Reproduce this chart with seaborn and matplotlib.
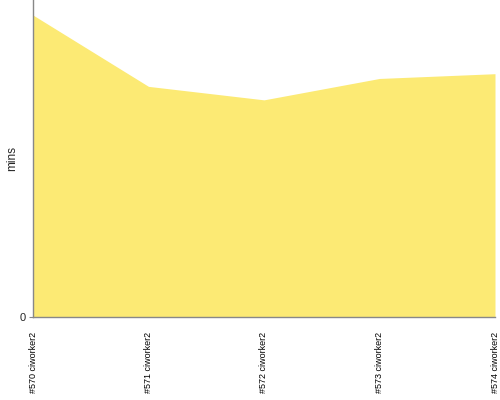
import pandas as pd
import seaborn as sns
import matplotlib
matplotlib.use('Agg')
import matplotlib.pyplot as plt

builds = ['#570 ciworker2', '#571 ciworker2', '#572 ciworker2', '#573 ciworker2', '#574 ciworker2']
durations = [19.05, 14.55, 13.7, 15.05, 15.35]

df = pd.DataFrame({'build': builds, 'mins': durations})
df['pos'] = range(len(df))

sns.set_style('white')
plt.rcParams['font.family'] = ['Liberation Sans', 'DejaVu Sans']

fig = plt.figure(figsize=(5, 4), dpi=100)
ax = fig.add_axes([0.066, 0.2075, 0.924, 0.7925])

fill_color = '#fcea74'
sns.lineplot(data=df, x='pos', y='mins', ax=ax, color=fill_color, linewidth=0)
ax.fill_between(df['pos'], df['mins'], 0, color=fill_color, linewidth=0)

ax.set_xlim(0, len(df) - 1)
ax.set_ylim(0, 20)
ax.set_xticks(df['pos'])
ax.set_xticklabels(df['build'], rotation=90, fontsize=6.5, color='black')
ax.set_yticks([0])
ax.set_yticklabels(['0'], fontsize=8)
ax.set_xlabel('')
ax.set_ylabel('mins', fontsize=8.5, labelpad=1)
ax.tick_params(axis='x', length=0, pad=11)
ax.tick_params(axis='y', length=3, color='#888888', pad=2, left=True)

for side in ['top', 'right']:
    ax.spines[side].set_visible(False)
for side in ['left', 'bottom']:
    ax.spines[side].set_color('#888888')
    ax.spines[side].set_linewidth(1)

fig.savefig('out.png', dpi=100)
